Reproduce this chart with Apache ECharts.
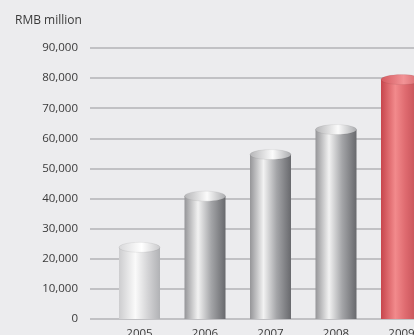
<!DOCTYPE html>
<html>
<head>
<meta charset="utf-8">
<script src="https://cdn.jsdelivr.net/npm/echarts@6/dist/echarts.min.js"></script>
<style>
html,body{margin:0;padding:0;background:#ececee;}
#c{width:414px;height:335px;}
</style>
</head>
<body>
<div id="c"></div>
<script>
const categories = ['2005', '2006', '2007', '2008', '2009'];
const values = [23800, 40800, 54600, 62900, 79500];
const yTicks = [0, 10000, 20000, 30000, 40000, 50000, 60000, 70000, 80000, 90000];
const unitLabel = 'RMB million';

const G = echarts.graphic.LinearGradient;
function bodyGrad(i) {
  if (i === 4) return new G(0,0,1,0,[
    {offset:0,color:'#c7454c'},{offset:0.35,color:'#f28a8c'},{offset:0.6,color:'#de6a6f'},{offset:1,color:'#b9474d'}]);
  if (i === 0) return new G(0,0,1,0,[
    {offset:0,color:'#cdcdcf'},{offset:0.4,color:'#fafafa'},{offset:0.7,color:'#d4d4d6'},{offset:1,color:'#b1b2b5'}]);
  return new G(0,0,1,0,[
    {offset:0,color:'#959598'},{offset:0.33,color:'#f2f2f2'},{offset:0.65,color:'#a4a5a8'},{offset:1,color:'#68696d'}]);
}
function topGrad(i) {
  if (i === 4) return new G(0,0,1,0,[
    {offset:0,color:'#d4585e'},{offset:0.55,color:'#f29396'},{offset:1,color:'#cf5f64'}]);
  if (i === 0) return new G(0,0,1,0,[
    {offset:0,color:'#d8d8da'},{offset:0.55,color:'#ffffff'},{offset:1,color:'#c9c9cb'}]);
  return new G(0,0,1,0,[
    {offset:0,color:'#b4b4b6'},{offset:0.55,color:'#fbfbfb'},{offset:1,color:'#a9aaad'}]);
}

const chart = echarts.init(document.getElementById('c'));
chart.setOption({
  backgroundColor: '#ececee',
  animation: false,
  title: {
    text: unitLabel, left: 10, top: 10,
    textStyle: {fontFamily: 'Open Sans', fontSize: 12, fontWeight: 'normal', color: '#3a3a3a'}
  },
  grid: [
    {left: 90, right: 0, top: 48, height: 271, outerBoundsMode: 'none'},
    {left: 106.75, width: 327.5, top: 48, height: 271, outerBoundsMode: 'none'}
  ],
  xAxis: [
    {gridIndex: 0, type: 'value', show: false, min: 0, max: 1},
    {gridIndex: 1, type: 'category', data: categories,
     axisLine: {show: false}, axisTick: {show: false},
     axisLabel: {margin: 9, fontFamily: 'Open Sans', fontSize: 11.5, color: '#3a3a3a'}}
  ],
  yAxis: [
    {gridIndex: 0, type: 'value', min: yTicks[0], max: yTicks[yTicks.length-1], interval: 10000,
     axisLine: {show: false}, axisTick: {show: false},
     axisLabel: {margin: 12, fontFamily: 'Open Sans', fontSize: 11.5, color: '#3a3a3a',
       formatter: v => v.toLocaleString('en-US')},
     splitLine: {lineStyle: {color: '#b3b3b6', width: 1.5}}},
    {gridIndex: 1, type: 'value', min: yTicks[0], max: yTicks[yTicks.length-1], interval: 10000,
     show: false, splitLine: {show: false}}
  ],
  series: [{
    type: 'custom',
    xAxisIndex: 1, yAxisIndex: 1,
    data: values.map((v, i) => [i, v]),
    renderItem: function (params, api) {
      const i = api.value(0);
      const top = api.coord([i, api.value(1)]);
      const base = api.coord([i, 0]);
      const bw = api.size([1, 0])[0] * 0.626;
      const rx = bw / 2, ry = 5;
      return {
        type: 'group',
        children: [
          {type: 'rect', shape: {x: top[0] - rx, y: top[1], width: bw, height: base[1] - top[1]},
           style: {fill: bodyGrad(params.dataIndex)}},
          {type: 'ellipse', shape: {cx: top[0], cy: top[1], rx: rx, ry: ry},
           style: {fill: topGrad(params.dataIndex), stroke: 'rgba(0,0,0,0.06)', lineWidth: 1}}
        ]
      };
    }
  }]
});
</script>
</body>
</html>
